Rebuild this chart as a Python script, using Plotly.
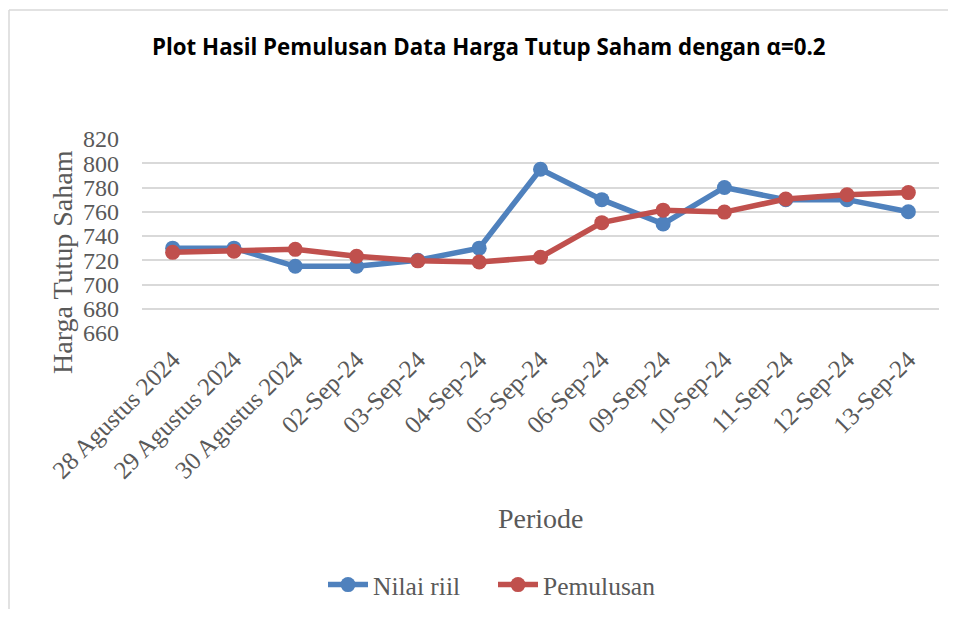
import plotly.graph_objects as go

periods = ["28 Agustus 2024", "29 Agustus 2024", "30 Agustus 2024", "02-Sep-24", "03-Sep-24",
           "04-Sep-24", "05-Sep-24", "06-Sep-24", "09-Sep-24", "10-Sep-24", "11-Sep-24",
           "12-Sep-24", "13-Sep-24"]
nilai_riil = [730, 730, 715, 715, 720, 730, 795, 770, 750, 780, 770, 770, 760]
pemulusan = [726.5, 727.5, 729, 723.3, 719.5, 718.5, 722.5, 751, 761.3, 759.7, 770.5, 774, 775.8]
y_ticks = [660, 680, 700, 720, 740, 760, 780, 800, 820]

OFF = 8  # page margin of the html body
W, H = 956 - 2 * OFF, 617 - 2 * OFF
L, R, T, B = 142 - OFF, 939 - OFF, 139 - OFF, 333 - OFF


def px(x):
    return (x - OFF - L) / (R - L)


def py(y):
    return (B - (y - OFF)) / (B - T)


def cx(x):
    return (x - OFF) / W


def cy(y):
    return 1 - (y - OFF) / H


serif = "Liberation Serif, Cambria, DejaVu Serif, serif"
grey_txt = "#595959"

fig = go.Figure()
fig.add_trace(go.Scatter(x=periods, y=nilai_riil, name="Nilai riil", mode="lines+markers",
                         line=dict(color="#4F81BD", width=5.5),
                         marker=dict(color="#4F81BD", size=15)))
fig.add_trace(go.Scatter(x=periods, y=pemulusan, name="Pemulusan", mode="lines+markers",
                         line=dict(color="#C0504D", width=5.5),
                         marker=dict(color="#C0504D", size=15)))

fig.update_layout(
    width=W, height=H, autosize=False,
    margin=dict(l=L, r=W - R, t=T, b=H - B, pad=0, autoexpand=False),
    paper_bgcolor="white", plot_bgcolor="white",
    showlegend=True,
    legend=dict(orientation="h", xref="container", yref="container",
                x=cx(493), xanchor="center", y=cy(585), yanchor="middle",
                font=dict(family=serif, size=25.5, color=grey_txt),
                itemwidth=40, traceorder="normal", entrywidth=115),
    xaxis=dict(type="category", range=[-0.5, len(periods) - 0.5], showgrid=False,
               showline=False, zeroline=False, ticks="", tickangle=-45,
               ticklabelstandoff=6, automargin=False,
               tickfont=dict(family=serif, size=25, color=grey_txt)),
    yaxis=dict(range=[660, 820], tickvals=y_ticks, showgrid=True, gridcolor="#D9D9D9",
               gridwidth=1.5, zeroline=False, showline=False, ticks="",
               ticklabelstandoff=22, automargin=False,
               tickfont=dict(family=serif, size=24, color=grey_txt)),
)

fig.add_annotation(text="Plot Hasil Pemulusan Data Harga Tutup Saham dengan α=0.2",
                   xref="paper", yref="paper", x=px(489), y=py(47), xanchor="center",
                   yanchor="middle", showarrow=False,
                   font=dict(family="Open Sans, Liberation Sans, sans-serif",
                             size=22.3, color="black", weight="bold"))
fig.add_annotation(text="Harga Tutup Saham", xref="paper", yref="paper", x=px(62), y=py(262),
                   xanchor="center", yanchor="middle", textangle=-90, showarrow=False,
                   font=dict(family=serif, size=28, color=grey_txt))
fig.add_annotation(text="Periode", xref="paper", yref="paper", x=px(541), y=py(518),
                   xanchor="center", yanchor="middle", showarrow=False,
                   font=dict(family=serif, size=28, color=grey_txt))

# chart-area border
fig.add_shape(type="line", xref="paper", yref="paper", x0=px(9), y0=py(10), x1=px(970), y1=py(10),
              line=dict(color="#D9D9D9", width=1.5))
fig.add_shape(type="line", xref="paper", yref="paper", x0=px(9), y0=py(10), x1=px(9), y1=py(640),
              line=dict(color="#D9D9D9", width=1.5))

fig.write_html("out.html")
